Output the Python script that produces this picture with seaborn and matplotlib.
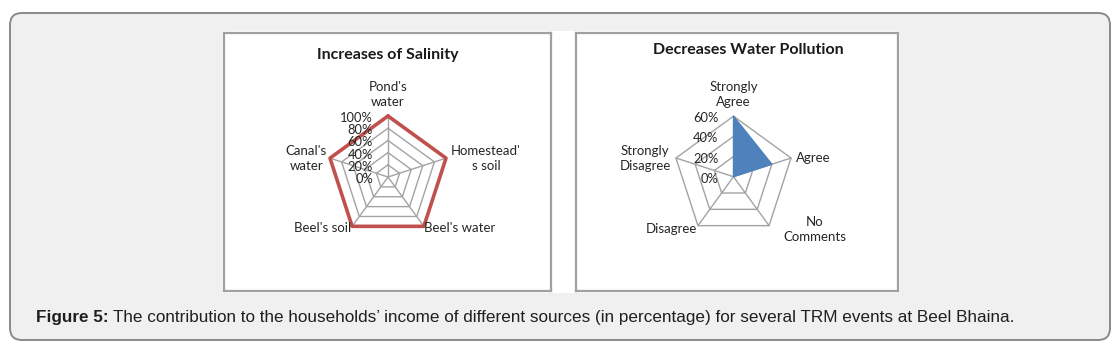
import numpy as np
import matplotlib
matplotlib.use("Agg")
import matplotlib.pyplot as plt
import seaborn as sns
from matplotlib.patches import FancyBboxPatch, Rectangle

# data
salinity_labels = ["Pond's\nwater", "Homestead'\ns soil", "Beel's water", "Beel's soil", "Canal's\nwater"]
salinity_values = [100, 100, 100, 100, 100]
salinity_ticks = [0, 20, 40, 60, 80, 100]

pollution_labels = ["Strongly\nAgree", "Agree", "No\nComments", "Disagree", "Strongly\nDisagree"]
pollution_values = [60, 40, 0, 0, 0]
pollution_ticks = [0, 20, 40, 60]

caption_bold = "Figure 5:"
caption_rest = "The contribution to the households\u2019 income of different sources (in percentage) for several TRM events at Beel Bhaina."

sns.set_style("white")
plt.rcParams['font.family'] = ['Lato', 'DejaVu Sans']

W, H = 1118, 344
fig = plt.figure(figsize=(W / 100, H / 100), dpi=100)

# background card, in pixel coords
ax_bg = fig.add_axes([0, 0, 1, 1])
ax_bg.set_xlim(0, W)
ax_bg.set_ylim(H, 0)
ax_bg.axis('off')
card = FancyBboxPatch((10, 13), 1100, 327, boxstyle="round,pad=0,rounding_size=12",
                      facecolor='#f0f0f0', edgecolor='#8a8a8a', lw=1.4)
ax_bg.add_patch(card)
ax_bg.add_patch(Rectangle((222, 31), 678, 262, facecolor='white', edgecolor='none'))

t1 = ax_bg.text(36, 325, caption_bold, fontsize=12.3, fontweight='bold', color='#1f1f1f',
                family=['Liberation Sans'], va='bottom', ha='left')
ax_bg.annotate(caption_rest, xy=(1, 0), xycoords=t1, xytext=(4, 0), textcoords='offset pixels',
               fontsize=12.3, color='#1f1f1f', family=['Liberation Sans'], va='bottom', ha='left')

grid_col = '#a3a3a3'
label_col = '#262626'


def radar(panel, center, R, labels, values, ticks, title, title_xy, label_offsets, kind):
    px0, py0, px1, py1 = panel
    cx, cy = center
    ax = fig.add_axes([px0 / W, 1 - py1 / H, (px1 - px0) / W, (py1 - py0) / H])
    ax.set_xlim((px0 - cx) / R, (px1 - cx) / R)
    ax.set_ylim((cy - py1) / R, (cy - py0) / R)
    ax.set_xticks([])
    ax.set_yticks([])
    for s in ax.spines.values():
        s.set_visible(True)
        s.set_color('#a0a0a0')
        s.set_linewidth(1.6)

    n = len(labels)
    ang = np.pi / 2 - 2 * np.pi * np.arange(n) / n
    vmax = ticks[-1]

    # grid rings + spokes
    for t in ticks[1:]:
        r = t / vmax
        ax.plot(np.append(r * np.cos(ang), r * np.cos(ang[0])),
                np.append(r * np.sin(ang), r * np.sin(ang[0])),
                color=grid_col, lw=1, zorder=1)
    for a in ang:
        ax.plot([0, np.cos(a)], [0, np.sin(a)], color=grid_col, lw=1, zorder=1)

    # tick labels
    for t in ticks:
        ax.annotate(f"{t}%", xy=(0, t / vmax), xytext=(-15, -2), textcoords='offset pixels',
                    ha='right', va='center', fontsize=9.3, color=label_col, zorder=4)

    # data
    vals = np.array(values) / vmax
    xs = np.append(vals * np.cos(ang), vals[0] * np.cos(ang[0]))
    ys = np.append(vals * np.sin(ang), vals[0] * np.sin(ang[0]))
    if kind == 'line':
        sns.lineplot(x=xs, y=ys, sort=False, estimator=None, ax=ax, color='#c0504d',
                     lw=2.6, zorder=3)
    else:
        ax.fill(xs, ys, color='#4f81bd', zorder=3, lw=1)

    # category labels
    for lab, a, (dx, dy, ha, va) in zip(labels, ang, label_offsets):
        ax.annotate(lab, xy=(np.cos(a), np.sin(a)), xytext=(dx, dy), textcoords='offset pixels',
                    ha=ha, va=va, multialignment='center', fontsize=9.5, color=label_col,
                    linespacing=1.3, zorder=4)

    fig.text(title_xy[0] / W, 1 - title_xy[1] / H, title, ha='center', va='center',
             fontsize=11.5, fontweight='bold', color='#1a1a1a')
    return ax


radar((224, 33, 551, 291), (388, 177), 61, salinity_labels, salinity_values, salinity_ticks,
      "Increases of Salinity", (388, 55),
      [(0, 8, 'center', 'bottom'), (5, 0, 'left', 'center'), (0, -2, 'left', 'center'),
       (-1, -2, 'right', 'center'), (-3, 0, 'right', 'center')], 'line')

radar((576, 33, 898, 291), (733.5, 176.7), 60.5, pollution_labels, pollution_values, pollution_ticks,
      "Decreases Water Pollution", (748, 50),
      [(0, 8, 'center', 'bottom'), (5, 0, 'left', 'center'), (14, -4, 'left', 'center'),
       (-1, -3, 'right', 'center'), (-5, 0, 'right', 'center')], 'fill')

plt.savefig('out.png', dpi=100)
